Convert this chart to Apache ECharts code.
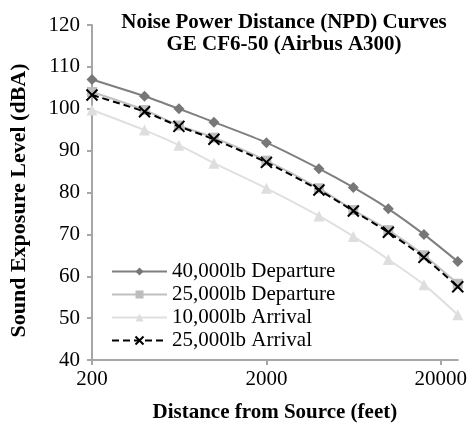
<!DOCTYPE html>
<html>
<head>
<meta charset="utf-8">
<script src="https://cdn.jsdelivr.net/npm/echarts@6/dist/echarts.min.js"></script>
<style>
  html, body { margin: 0; padding: 0; background: #fff; }
  #chart { width: 470px; height: 428px; }
</style>
</head>
<body>
<div id="chart"></div>
<script>
// Distances from source (feet)
const distances = [200, 400, 630, 1000, 2000, 4000, 6300, 10000, 16000, 25000];
const xTicks = [200, 2000, 20000];

// Sound exposure level (dBA) per thrust/operation
const dep40k = [107, 103, 100, 96.8, 91.9, 85.7, 81.2, 76.1, 70, 63.5];
const dep25k = [104, 99.7, 96, 93.1, 87.6, 81, 75.8, 71, 65, 58.2];
const arr10k = [99.7, 94.9, 91.3, 87, 81, 74.4, 69.5, 64, 58, 50.8];
const arr25k = [103.3, 99.3, 95.8, 92.7, 87.2, 80.6, 75.6, 70.5, 64.5, 57.5];

const seriesNames = ['40,000lb Departure', '25,000lb Departure', '10,000lb Arrival', '25,000lb Arrival'];

const FONT = '"Liberation Serif", "Times New Roman", serif';
const pairs = vals => distances.map((d, i) => [d, vals[i]]);

const chart = echarts.init(document.getElementById('chart'), null, { renderer: 'canvas' });
chart.setOption({
  animation: false,
  backgroundColor: '#fff',
  textStyle: { fontFamily: FONT },
  title: {
    text: 'Noise Power Distance (NPD) Curves\nGE CF6-50 (Airbus A300)',
    left: 279, top: 7, textAlign: 'center',
    textStyle: { fontFamily: FONT, fontWeight: 'bold', fontSize: 21, color: '#000', lineHeight: 22, align: 'center' }
  },
  grid: { left: 90, right: 10, top: 25, bottom: 61, containLabel: false },
  legend: {
    orient: 'vertical', left: 111, top: 261, padding: 0,
    itemWidth: 55, itemHeight: 10, itemGap: 2,
    textStyle: { fontFamily: FONT, fontSize: 21, color: '#000' },
    data: seriesNames
  },
  xAxis: {
    type: 'log', logBase: 10, min: 200, max: 25000,
    name: 'Distance from Source (feet)', nameLocation: 'middle', nameGap: 42,
    nameTextStyle: { fontFamily: FONT, fontWeight: 'bold', fontSize: 21, color: '#000' },
    axisLine: { lineStyle: { color: '#a6a6a6', width: 2 } },
    axisTick: { show: true, inside: false, length: 5, lineStyle: { color: '#a6a6a6', width: 2 }, customValues: xTicks },
    axisLabel: { fontFamily: FONT, fontSize: 21, color: '#000', margin: 9, customValues: xTicks,
      formatter: v => String(Math.round(v)) },
    splitLine: { show: false }
  },
  yAxis: {
    type: 'value', min: 40, max: 120, interval: 10,
    name: 'Sound Exposure Level (dBA)', nameLocation: 'middle', nameGap: 62,
    nameTextStyle: { fontFamily: FONT, fontWeight: 'bold', fontSize: 22, color: '#000', padding: [0, 16, 0, 0] },
    axisLine: { show: true, lineStyle: { color: '#a6a6a6', width: 2 } },
    axisTick: { show: true, inside: false, length: 5, lineStyle: { color: '#a6a6a6', width: 2 } },
    axisLabel: { fontFamily: FONT, fontSize: 21, color: '#000', margin: 12 },
    splitLine: { show: false }
  },
  series: [
    {
      name: seriesNames[0], type: 'line', data: pairs(dep40k), smooth: 0.25,
      symbol: 'diamond', symbolSize: 11,
      lineStyle: { color: '#7f7f7f', width: 2 },
      itemStyle: { color: '#777777' }, z: 3
    },
    {
      name: seriesNames[1], type: 'line', data: pairs(dep25k), smooth: 0.25,
      symbol: 'rect', symbolSize: 10,
      lineStyle: { color: '#c0c0c0', width: 2 },
      itemStyle: { color: '#bdbdbd' }, z: 2
    },
    {
      name: seriesNames[2], type: 'line', data: pairs(arr10k), smooth: 0.25,
      symbol: 'triangle', symbolSize: 11,
      lineStyle: { color: '#e0e0e0', width: 2 },
      itemStyle: { color: '#dedede' }, z: 1
    },
    {
      name: seriesNames[3], type: 'line', data: pairs(arr25k), smooth: 0.25,
      symbol: 'path://M0,0L10,10M10,0L0,10', symbolSize: 11,
      lineStyle: { color: '#000', width: 2, type: [7, 4] },
      itemStyle: { color: 'none', borderColor: '#000', borderWidth: 2 }, z: 4
    }
  ]
});
</script>
</body>
</html>
